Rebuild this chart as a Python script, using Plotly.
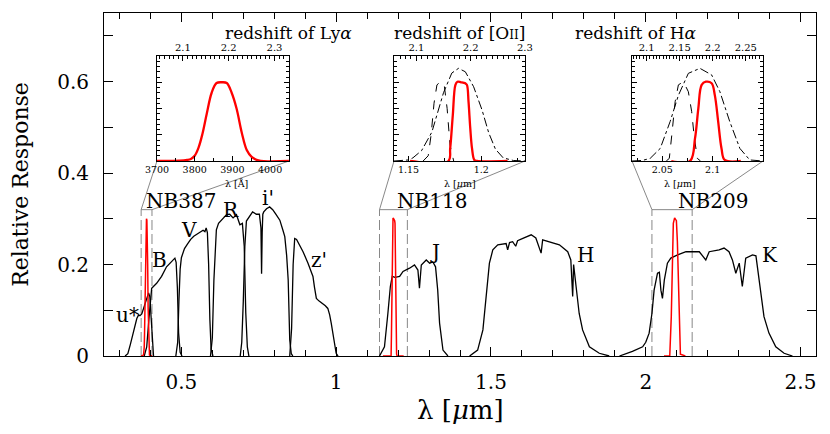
import plotly.graph_objects as go

FONT = "DejaVu Serif"

# ---- broad-band filters: wavelength [um] and relative response
u_wl = [0.318, 0.327, 0.335, 0.344, 0.350, 0.356, 0.362, 0.366, 0.372, 0.380, 0.388, 0.394, 0.398, 0.402, 0.406, 0.410]
u_resp = [0, 0.005, 0.025, 0.05, 0.068, 0.082, 0.09, 0.088, 0.092, 0.11, 0.13, 0.138, 0.13, 0.08, 0.02, 0]

b_wl = [0.380, 0.388, 0.395, 0.404, 0.420, 0.436, 0.452, 0.460, 0.468, 0.474, 0.479, 0.483, 0.487, 0.491, 0.496, 0.502]
b_resp = [0, 0.02, 0.08, 0.148, 0.159, 0.174, 0.195, 0.2, 0.206, 0.21, 0.214, 0.205, 0.15, 0.05, 0.008, 0]

v_wl = [0.482, 0.488, 0.492, 0.496, 0.500, 0.510, 0.520, 0.530, 0.540, 0.550, 0.560, 0.570, 0.576, 0.580, 0.584, 0.588, 0.592, 0.596, 0.602]
v_resp = [0, 0.03, 0.12, 0.19, 0.215, 0.235, 0.245, 0.255, 0.262, 0.266, 0.27, 0.275, 0.272, 0.28, 0.27, 0.2, 0.08, 0.015, 0]

r_wl = [0.594, 0.600, 0.605, 0.610, 0.613, 0.620, 0.630, 0.646, 0.656, 0.667, 0.678, 0.689, 0.697, 0.703, 0.708, 0.713, 0.718]
r_resp = [0, 0.04, 0.166, 0.25, 0.276, 0.29, 0.298, 0.309, 0.31, 0.302, 0.309, 0.287, 0.29, 0.24, 0.094, 0.02, 0]

i_wl = [0.690, 0.695, 0.700, 0.705, 0.710, 0.720, 0.730, 0.742, 0.752, 0.757, 0.759, 0.761, 0.763,
        0.766, 0.775, 0.785, 0.795, 0.805, 0.818, 0.828, 0.834, 0.840, 0.845, 0.850, 0.855, 0.860]
i_resp = [0, 0.03, 0.12, 0.24, 0.295, 0.305, 0.315, 0.31, 0.31, 0.28, 0.18, 0.27, 0.31,
          0.315, 0.322, 0.326, 0.32, 0.31, 0.297, 0.275, 0.261, 0.22, 0.166, 0.035, 0.005, 0]

z_wl = [0.850, 0.856, 0.861, 0.866, 0.872, 0.880, 0.893, 0.909, 0.925, 0.930, 0.936,
        0.945, 0.957, 0.965, 0.973, 0.979, 0.984, 0.990, 0.995, 1.000, 1.006]
z_resp = [0, 0.06, 0.2, 0.257, 0.255, 0.245, 0.228, 0.203, 0.174, 0.15, 0.126,
          0.12, 0.115, 0.11, 0.104, 0.09, 0.072, 0.045, 0.02, 0.006, 0]

j_wl = [1.140, 1.156, 1.167, 1.175, 1.181, 1.190, 1.205, 1.216, 1.237, 1.253, 1.264, 1.269, 1.275,
        1.291, 1.302, 1.312, 1.321, 1.328, 1.334, 1.345, 1.361]
j_resp = [0, 0.02, 0.093, 0.152, 0.174, 0.172, 0.174, 0.185, 0.192, 0.199, 0.188, 0.148, 0.199,
          0.21, 0.203, 0.206, 0.195, 0.144, 0.072, 0.013, 0]

h_wl = [1.431, 1.457, 1.474, 1.484, 1.495, 1.506, 1.522, 1.549, 1.554, 1.560, 1.570, 1.580, 1.586, 1.603,
        1.630, 1.645, 1.662, 1.667, 1.689, 1.721, 1.748, 1.758, 1.764, 1.767, 1.775, 1.785, 1.796, 1.818, 1.850, 1.882]
h_resp = [0, 0.013, 0.057, 0.13, 0.203, 0.232, 0.243, 0.246, 0.232, 0.248, 0.25, 0.24, 0.252, 0.257,
          0.265, 0.258, 0.225, 0.254, 0.25, 0.243, 0.228, 0.21, 0.13, 0.2, 0.152, 0.093, 0.057, 0.02, 0.006, 0]

k_wl = [1.915, 1.957, 1.990, 2.000, 2.011, 2.020, 2.027, 2.038, 2.044, 2.049, 2.054, 2.060, 2.070, 2.081,
        2.103, 2.130, 2.173, 2.194, 2.205, 2.237, 2.253, 2.269, 2.280, 2.291, 2.302, 2.312, 2.323,
        2.345, 2.356, 2.364, 2.371, 2.382, 2.398, 2.420, 2.447, 2.474]
k_resp = [0, 0.01, 0.02, 0.03, 0.05, 0.093, 0.144, 0.181, 0.183, 0.144, 0.126, 0.166, 0.203, 0.214,
          0.221, 0.228, 0.228, 0.21, 0.228, 0.232, 0.236, 0.228, 0.21, 0.181, 0.203, 0.152, 0.214,
          0.221, 0.219, 0.181, 0.137, 0.086, 0.05, 0.02, 0.006, 0]

broad_bands = [(u_wl, u_resp), (b_wl, b_resp), (v_wl, v_resp), (r_wl, r_resp), (i_wl, i_resp),
               (z_wl, z_resp), (j_wl, j_resp), (h_wl, h_resp), (k_wl, k_resp)]

band_names = ["u*", "B", "V", "R", "i'", "z'", "J", "H", "K", "NB387", "NB118", "NB209"]
band_label_x = [0.327, 0.429, 0.526, 0.66, 0.781, 0.944, 1.318, 1.805, 2.40, 0.498, 1.308, 2.218]
band_label_y = [0.09, 0.21, 0.276, 0.32, 0.346, 0.21, 0.228, 0.221, 0.221, 0.34, 0.34, 0.34]

# ---- narrow-band filters
nb387_wl_A = [3700, 3760, 3780, 3790, 3800, 3810, 3820, 3832, 3845, 3858, 3872, 3885, 3898,
              3911, 3925, 3938, 3951, 3969, 4050]
nb387_resp = [0, 0.001, 0.004, 0.008, 0.02, 0.05, 0.1, 0.18, 0.26, 0.297, 0.30, 0.297, 0.26,
              0.20, 0.107, 0.042, 0.016, 0.002, 0]

nb118_wl = [1.151, 1.1774, 1.1786, 1.1804, 1.1822, 1.1836, 1.1860, 1.1880, 1.1890, 1.1901, 1.1912,
            1.1924, 1.1936, 1.1952, 1.197, 1.218]
nb118_resp = [0, 0, 0.048, 0.175, 0.29, 0.302, 0.30, 0.298, 0.296, 0.29, 0.226,
              0.124, 0.048, 0.004, 0, 0]

nb209_wl = [2.059, 2.0776, 2.0825, 2.0858, 2.0891, 2.0933, 2.099, 2.1022, 2.1055, 2.1088, 2.112, 2.128]
nb209_resp = [0, 0, 0.086, 0.2, 0.29, 0.302, 0.296, 0.25, 0.15, 0.048, 0.004, 0]

# ---- black curves inside the [OII] and Halpha insets
o2_dash_wl = [1.160, 1.1635, 1.1655, 1.1675, 1.1695, 1.172, 1.1745, 1.1765, 1.1785, 1.181]
o2_dash_resp = [0, 0.02, 0.1, 0.22, 0.29, 0.302, 0.29, 0.2, 0.06, 0]
o2_dot_wl = [1.140, 1.150, 1.153, 1.159, 1.166, 1.1705, 1.174, 1.1797, 1.1843, 1.189, 1.1947,
             1.2005, 1.2051, 1.2097, 1.215, 1.222, 1.230]
o2_dot_resp = [0, 0.004, 0.012, 0.04, 0.11, 0.2, 0.26, 0.335, 0.353, 0.34, 0.283,
               0.194, 0.107, 0.045, 0.012, 0.002, 0]

ha_dash_wl = [2.054, 2.057, 2.0595, 2.0628, 2.066, 2.071, 2.0759, 2.0792, 2.0815, 2.0848, 2.088]
ha_dash_resp = [0, 0.01, 0.1, 0.226, 0.29, 0.302, 0.264, 0.188, 0.1, 0.01, 0]
ha_dot_wl = [2.020, 2.030, 2.038, 2.048, 2.0578, 2.066, 2.0759, 2.0874, 2.099, 2.1072, 2.117,
             2.127, 2.1368, 2.145, 2.150]
ha_dot_resp = [0, 0.002, 0.01, 0.048, 0.15, 0.25, 0.334, 0.353, 0.328, 0.264, 0.15,
               0.048, 0.004, 0.001, 0]

# ---- insets: zoom ranges, rest wavelengths for redshift axis
inset_ranges = [(3700, 4050), (1.14, 1.23), (2.02, 2.15)]
inset_to_um = [1e-4, 1.0, 1.0]
rest_wl = [1215.67, 0.3727, 0.65628]
inset_xticks = [[3700, 3800, 3900, 4000], [1.15, 1.2], [2.05, 2.1]]
inset_dtick = [100, 0.05, 0.05]
inset_ztick = [0.1, 0.1, 0.05]
inset_titles = ["redshift of Ly<i>α</i>",
                "redshift of [O<span style='font-size:12px'>II</span>]",
                "redshift of H<i>α</i>"]
inset_xtitles = ["λ [Å]", "λ [<i>μ</i>m]", "λ [<i>μ</i>m]"]
inset_xdom = [(0.0744, 0.2598), (0.4073, 0.5913), (0.7416, 0.9256)]
inset_ydom = (0.5685, 0.8746)

XR = (0.25, 2.55)
YR = (0, 0.75)
BOX_TOP = 0.32

fig = go.Figure()

for wl, resp in broad_bands:
    fig.add_trace(go.Scatter(x=wl, y=resp, mode="lines", line=dict(color="black", width=1.3),
                             hoverinfo="skip", showlegend=False))

nb_main = [([w * 1e-4 for w in nb387_wl_A], nb387_resp), (nb118_wl, nb118_resp), (nb209_wl, nb209_resp)]
for wl, resp in nb_main:
    fig.add_trace(go.Scatter(x=wl, y=resp, mode="lines", line=dict(color="red", width=1.5),
                             hoverinfo="skip", showlegend=False))

inset_curves = [
    [],
    [(o2_dot_wl, o2_dot_resp, "dashdot"), (o2_dash_wl, o2_dash_resp, "dash")],
    [(ha_dot_wl, ha_dot_resp, "dashdot"), (ha_dash_wl, ha_dash_resp, "dash")],
]
inset_red = [(nb387_wl_A, nb387_resp), (nb118_wl, nb118_resp), (nb209_wl, nb209_resp)]

axis_line = dict(showline=True, linecolor="black", linewidth=1, showgrid=False, zeroline=False,
                 automargin=False)
layout_axes = {}
shapes = []
annotations = []

for k in range(3):
    xb, xt, yk = 2 + 2 * k, 3 + 2 * k, 2 + k
    lo, hi = inset_ranges[k]
    for wl, resp, dash in inset_curves[k]:
        fig.add_trace(go.Scatter(x=wl, y=resp, mode="lines", xaxis=f"x{xb}", yaxis=f"y{yk}",
                                 line=dict(color="black", width=1, dash=dash),
                                 hoverinfo="skip", showlegend=False))
    fig.add_trace(go.Scatter(x=inset_red[k][0], y=inset_red[k][1], mode="lines",
                             xaxis=f"x{xb}", yaxis=f"y{yk}", line=dict(color="red", width=2.3),
                             line_shape="spline", hoverinfo="skip", showlegend=False))
    zlo = lo / rest_wl[k] - 1
    zhi = hi / rest_wl[k] - 1
    # placeholder so the redshift axis gets drawn
    fig.add_trace(go.Scatter(x=[zlo, zhi], y=[None, None], mode="lines", xaxis=f"x{xt}",
                             yaxis=f"y{yk}", hoverinfo="skip", showlegend=False))

    layout_axes[f"xaxis{xb}"] = dict(
        axis_line, domain=list(inset_xdom[k]), anchor=f"y{yk}", range=[lo, hi],
        ticks="inside", ticklen=5, tickcolor="black", tickmode="array", tickvals=inset_xticks[k],
        minor=dict(dtick=inset_dtick[k] / 2, tick0=0, ticks="inside", ticklen=3, tickcolor="black"),
        tickfont=dict(family=FONT, size=9.5, color="black"),
    )
    layout_axes[f"xaxis{xt}"] = dict(
        axis_line, overlaying=f"x{xb}", side="top", anchor=f"y{yk}", range=[zlo, zhi],
        ticks="inside", ticklen=5, tickcolor="black", dtick=inset_ztick[k], tick0=0,
        minor=dict(dtick=inset_ztick[k] / 10, ticks="inside", ticklen=3, tickcolor="black"),
        tickfont=dict(family=FONT, size=10, color="black"),
    )
    layout_axes[f"yaxis{yk}"] = dict(
        axis_line, domain=list(inset_ydom), anchor=f"x{xb}", range=[0, 0.4], mirror="ticks",
        ticks="inside", ticklen=5, tickcolor="black", dtick=0.1, showticklabels=False,
        minor=dict(dtick=0.02, ticks="inside", ticklen=3, tickcolor="black"),
    )

    # zoom box in the main panel and connectors to the inset corners
    lo_um, hi_um = lo * inset_to_um[k], hi * inset_to_um[k]
    cx0 = XR[0] + inset_xdom[k][0] * (XR[1] - XR[0])
    cx1 = XR[0] + inset_xdom[k][1] * (XR[1] - XR[0])
    cy = YR[0] + inset_ydom[0] * (YR[1] - YR[0])
    grey = dict(color="#7a7a7a", width=0.9)
    for xv in (lo_um, hi_um):
        shapes.append(dict(type="line", xref="x", yref="y", x0=xv, x1=xv, y0=0, y1=BOX_TOP,
                           line=dict(grey, dash="10px,4px"), layer="below"))
    shapes.append(dict(type="line", xref="x", yref="y", x0=lo_um, x1=hi_um, y0=BOX_TOP, y1=BOX_TOP,
                       line=grey, layer="below"))
    shapes.append(dict(type="line", xref="x", yref="y", x0=lo_um, x1=cx0, y0=BOX_TOP, y1=cy,
                       line=grey, layer="below"))
    shapes.append(dict(type="line", xref="x", yref="y", x0=hi_um, x1=cx1, y0=BOX_TOP, y1=cy,
                       line=grey, layer="below"))

    xc = (inset_xdom[k][0] + inset_xdom[k][1]) / 2
    annotations.append(dict(text=inset_titles[k], xref="paper", yref="paper", x=xc, y=0.9417,
                            yanchor="middle", showarrow=False,
                            font=dict(family=FONT, size=17, color="black")))
    annotations.append(dict(text=inset_xtitles[k], xref="paper", yref="paper", x=xc, y=0.5043,
                            yanchor="middle", showarrow=False,
                            font=dict(family=FONT, size=9.5, color="black")))

for name, lx, ly in zip(band_names, band_label_x, band_label_y):
    annotations.append(dict(text=name, x=lx, y=ly, xref="x", yref="y", showarrow=False,
                            font=dict(family=FONT, size=20, color="black")))

annotations.append(dict(text="λ [<i>μ</i>m]", xref="paper", yref="paper", x=0.5, y=-0.157,
                        yanchor="middle", showarrow=False, font=dict(family=FONT, size=26, color="black")))

fig.update_layout(
    width=830, height=434,
    margin=dict(l=96, r=22, t=5, b=86),
    paper_bgcolor="white", plot_bgcolor="white",
    xaxis=dict(axis_line, range=list(XR), mirror="ticks", ticks="inside", ticklen=9, tickcolor="black",
               dtick=0.5, tick0=0, ticklabelstandoff=8,
               minor=dict(dtick=0.1, ticks="inside", ticklen=6, tickcolor="black"),
               tickfont=dict(family=FONT, size=20, color="black")),
    yaxis=dict(axis_line, range=list(YR), mirror="ticks", ticks="inside", ticklen=9, tickcolor="black",
               dtick=0.2, tick0=0, ticklabelstandoff=10,
               minor=dict(dtick=0.1, ticks="inside", ticklen=9, tickcolor="black"),
               tickfont=dict(family=FONT, size=20, color="black"),
               title=dict(text="Relative Response", standoff=22,
                          font=dict(family=FONT, size=22, color="black"))),
    shapes=shapes,
    annotations=annotations,
    **layout_axes,
)

fig.write_html("out.html")
